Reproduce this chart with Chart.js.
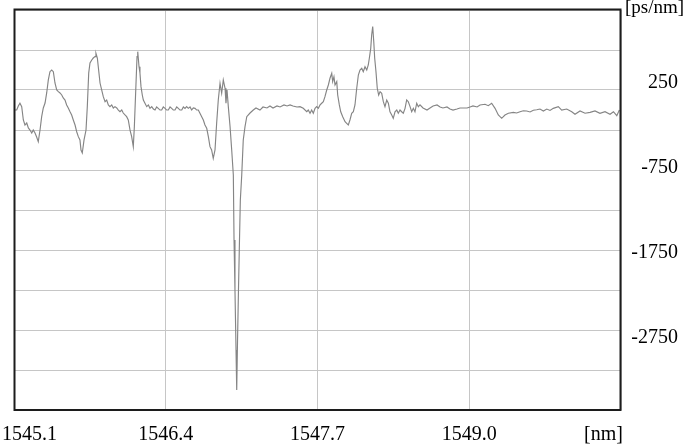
<!DOCTYPE html>
<html>
<head>
<meta charset="utf-8">
<script src="https://cdn.jsdelivr.net/npm/chart.js@4.4.1/dist/chart.umd.min.js"></script>
<style>
  html, body { margin: 0; padding: 0; background: #ffffff; }
  #wrap { width: 694px; height: 445px; position: relative; }
</style>
</head>
<body>
<div id="wrap"><canvas id="chart" width="694" height="445"></canvas></div>
<script>
// Chromatic dispersion versus wavelength
const wavelengthNm = [
  1545.104, 1545.123, 1545.137, 1545.151, 1545.166, 1545.180, 1545.194, 1545.209, 1545.223, 1545.237,
  1545.252, 1545.265, 1545.280, 1545.294, 1545.308, 1545.323, 1545.337, 1545.351, 1545.366, 1545.380,
  1545.394, 1545.408, 1545.423, 1545.437, 1545.451, 1545.466, 1545.480, 1545.494, 1545.509, 1545.522,
  1545.537, 1545.551, 1545.565, 1545.580, 1545.594, 1545.608, 1545.623, 1545.637, 1545.651, 1545.665,
  1545.674, 1545.685, 1545.700, 1545.717, 1545.728, 1545.740, 1545.751, 1545.766, 1545.779, 1545.794,
  1545.802, 1545.814, 1545.822, 1545.837, 1545.851, 1545.865, 1545.880, 1545.894, 1545.908, 1545.922,
  1545.937, 1545.951, 1545.965, 1545.980, 1545.994, 1546.008, 1546.023, 1546.036, 1546.051, 1546.065,
  1546.079, 1546.094, 1546.108, 1546.122, 1546.131, 1546.143, 1546.154, 1546.160, 1546.171, 1546.179,
  1546.188, 1546.199, 1546.208, 1546.222, 1546.237, 1546.251, 1546.265, 1546.280, 1546.294, 1546.308,
  1546.322, 1546.336, 1546.351, 1546.365, 1546.379, 1546.394, 1546.408, 1546.422, 1546.437, 1546.451,
  1546.465, 1546.479, 1546.494, 1546.508, 1546.522, 1546.537, 1546.551, 1546.565, 1546.579, 1546.593,
  1546.608, 1546.622, 1546.636, 1546.651, 1546.665, 1546.679, 1546.693, 1546.708, 1546.722, 1546.736,
  1546.751, 1546.765, 1546.779, 1546.793, 1546.807, 1546.822, 1546.836, 1546.850, 1546.865, 1546.879,
  1546.893, 1546.908, 1546.916, 1546.925, 1546.936, 1546.951, 1546.965, 1546.979, 1546.985, 1546.993,
  1547.002, 1547.008, 1547.015, 1547.023, 1547.030, 1547.039, 1547.051, 1547.064, 1547.079, 1547.094,
  1547.122, 1547.150, 1547.173, 1547.207, 1547.233, 1547.267, 1547.293, 1547.319, 1547.353, 1547.379,
  1547.413, 1547.439, 1547.465, 1547.490, 1547.524, 1547.550, 1547.578, 1547.608, 1547.621, 1547.636,
  1547.650, 1547.664, 1547.679, 1547.693, 1547.707, 1547.722, 1547.736, 1547.750, 1547.764, 1547.779,
  1547.793, 1547.807, 1547.822, 1547.830, 1547.841, 1547.850, 1547.865, 1547.873, 1547.887, 1547.899,
  1547.916, 1547.936, 1547.950, 1547.964, 1547.978, 1547.993, 1548.007, 1548.021, 1548.036, 1548.050,
  1548.064, 1548.079, 1548.092, 1548.107, 1548.122, 1548.135, 1548.144, 1548.156, 1548.164, 1548.173,
  1548.182, 1548.190, 1548.201, 1548.212, 1548.224, 1548.236, 1548.250, 1548.264, 1548.278, 1548.293,
  1548.307, 1548.321, 1548.336, 1548.349, 1548.364, 1548.379, 1548.392, 1548.407, 1548.421, 1548.435,
  1548.450, 1548.464, 1548.478, 1548.493, 1548.507, 1548.521, 1548.535, 1548.550, 1548.564, 1548.578,
  1548.604, 1548.638, 1548.664, 1548.690, 1548.724, 1548.750, 1548.775, 1548.809, 1548.835, 1548.861,
  1548.895, 1548.921, 1548.947, 1548.981, 1549.007, 1549.032, 1549.067,
  1549.092, 1549.135, 1549.163, 1549.192, 1549.221, 1549.249, 1549.278, 1549.306, 1549.335, 1549.378,
  1549.406, 1549.435, 1549.463, 1549.492, 1549.521, 1549.549, 1549.578, 1549.606, 1549.635, 1549.664,
  1549.692, 1549.720, 1549.763, 1549.792, 1549.835, 1549.878, 1549.906, 1549.949, 1549.992, 1550.035,
  1550.077, 1550.120, 1550.163, 1550.206, 1550.235, 1550.264, 1550.286
];

const dispersionPsNm = [
  -80, -80, -32, 0, -40, -197, -256, -232, -291, -315,
  -350, -315, -350, -397, -452, -315, -158, -56, 3, 121,
  274, 371, 391, 371, 238, 156, 136, 121, 97, 62,
  38, -20, -56, -100, -138, -197, -256, -335, -393, -432,
  -550, -585, -432, -315, -40, 356, 473, 509, 532, 548,
  588, 532, 430, 238, 156, 77, 18, 38, -20, -40,
  -20, -56, -40, -56, -80, -100, -80, -115, -138, -158,
  -197, -315, -393, -511, -276, 156, 548, 607, 430, 356,
  195, 97, 38, 0, -40, -20, -60, -40, -68, -80,
  -44, -60, -80, -80, -44, -60, -80, -80, -44, -60,
  -80, -80, -44, -60, -80, -80, -44, -60, -40, -60,
  -44, -80, -56, -60, -80, -80, -118, -158, -197, -256,
  -295, -393, -511, -550, -648, -550, -236, 38, 235, 117,
  274, 176, 0, 156, -40, -276, -550, -844, -1609, -2197,
  -2903, -3374, -2785, -2197, -1726, -1138, -844, -432, -276, -158,
  -115, -80, -56, -80, -44, -56, -32, -56, -32, -44,
  -20, -32, -20, -32, -44, -40, -60, -100, -80, -118,
  -80, -118, -60, -40, -60, -20, 0, 18, 77, 156,
  215, 294, 352, 254, 312, 215, 254, 97, -20, -100,
  -158, -217, -236, -256, -197, -118, -100, -20, 176, 332,
  391, 411, 371, 430, 391, 450, 529, 646, 803, 901,
  724, 529, 371, 176, 97, 136, 117, 18, -40, 38,
  0, -100, -138, -177, -100, -80, -118, -80, -100, -118,
  -60, 38, 18, -40, -100, -60, -100, 0, -40, -20,
  -56, -80, -56, -32, -20, -44, -56, -44, -68, -80,
  -68, -56, -56, -56, -44, -32, -44,
  -20, -12, -29, 0, -60, -138, -177, -138, -118, -107,
  -115, -100, -88, -91, -103, -83, -76, -68, -91, -68,
  -85, -60, -40, -80, -68, -100, -130, -91, -118, -107,
  -91, -118, -100, -130, -100, -147, -80
];

// Axis annotation
const xTickValues = [1545.1, 1546.4, 1547.7, 1549.0, 1550.3];
const xTickLabels = ['1545.1', '1546.4', '1547.7', '1549.0', '[nm]'];
const yLabelValues = [250, -750, -1750, -2750];
const yLabelTexts = ['250', '-750', '-1750', '-2750'];
const yUnitLabel = '[ps/nm]';
const xRange = [1545.1, 1550.3];
const yRange = [-3609, 1097];

const LABEL_FONT = '20px "Liberation Serif", "Times New Roman", serif';

const axisTextPlugin = {
  id: 'axisText',
  afterDraw(chart) {
    const ctx = chart.ctx;
    const area = chart.chartArea;
    const xs = chart.scales.x;
    const ys = chart.scales.y;
    ctx.save();

    // plot frame
    ctx.strokeStyle = '#1c1c1c';
    ctx.lineWidth = 2;
    ctx.strokeRect(area.left + 0.5, area.top - 0.5, area.right - area.left - 1, area.bottom - area.top + 0.5);

    ctx.fillStyle = '#000000';
    ctx.font = LABEL_FONT;
    ctx.textBaseline = 'alphabetic';

    // wavelength labels
    const xBase = area.bottom + 30;
    xTickValues.forEach((v, i) => {
      const px = xs.getPixelForValue(v);
      if (i === 0) {
        ctx.textAlign = 'left';
        ctx.fillText(xTickLabels[i], px - 12, xBase);
      } else if (i === xTickValues.length - 1) {
        ctx.textAlign = 'right';
        ctx.fillText(xTickLabels[i], px + 2, xBase);
      } else {
        ctx.textAlign = 'center';
        ctx.fillText(xTickLabels[i], px, xBase);
      }
    });

    // dispersion labels
    ctx.textAlign = 'right';
    yLabelValues.forEach((v, i) => {
      const py = ys.getPixelForValue(v);
      ctx.fillText(yLabelTexts[i], area.right + 57, py + 6.5);
    });

    ctx.font = '19px "Liberation Serif", "Times New Roman", serif';
    ctx.textAlign = 'left';
    ctx.fillText(yUnitLabel, area.right + 4, ys.getPixelForValue(yRange[1]) + 3);

    ctx.restore();
  }
};

const points = wavelengthNm.map((w, i) => ({ x: w, y: dispersionPsNm[i] }));

new Chart(document.getElementById('chart'), {
  type: 'line',
  data: {
    datasets: [{
      data: points,
      borderColor: '#858585',
      borderWidth: 1.15,
      pointRadius: 0,
      tension: 0,
      fill: false
    }]
  },
  options: {
    responsive: false,
    devicePixelRatio: 1,
    animation: false,
    layout: { padding: { left: 14, top: 10, right: 73, bottom: 35 } },
    plugins: {
      legend: { display: false },
      tooltip: { enabled: false }
    },
    scales: {
      x: {
        type: 'linear',
        min: xRange[0],
        max: xRange[1],
        afterBuildTicks(scale) {
          scale.ticks = xTickValues.map(v => ({ value: v }));
        },
        ticks: { display: false },
        grid: { color: '#c6c6c6', lineWidth: 1, drawTicks: false },
        border: { display: false }
      },
      y: {
        type: 'linear',
        min: yRange[0],
        max: yRange[1],
        afterBuildTicks(scale) {
          const n = 10;
          const t = [];
          for (let i = 0; i <= n; i++) t.push({ value: scale.min + (scale.max - scale.min) * i / n });
          scale.ticks = t;
        },
        ticks: { display: false },
        grid: { color: '#c6c6c6', lineWidth: 1, drawTicks: false },
        border: { display: false }
      }
    }
  },
  plugins: [axisTextPlugin]
});
</script>
</body>
</html>
